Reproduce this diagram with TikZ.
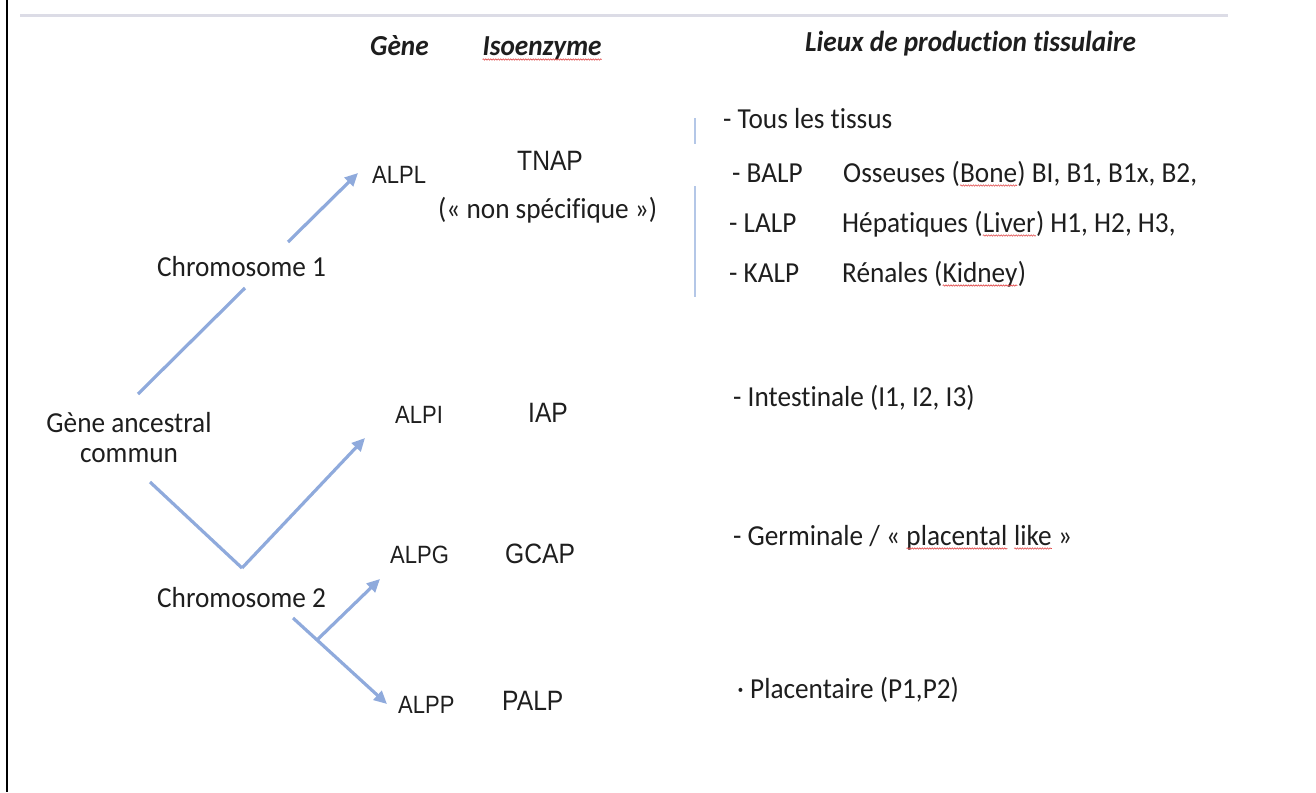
\documentclass[tikz,border=0pt]{standalone}
\usepackage{fontspec}
\setmainfont{Carlito}[Ligatures={NoCommon}, FakeStretch=0.94]
\newfontfamily\arialfont{Liberation Sans}[FakeStretch=0.88]
\usepackage{tikz}
\usetikzlibrary{arrows.meta,decorations.pathmorphing}

\definecolor{branchblue}{HTML}{8FAADC}
\definecolor{barblue}{HTML}{B4C7E7}
\definecolor{rulegray}{HTML}{DCDCE6}
\definecolor{spellred}{HTML}{E04A4A}
\definecolor{ink}{HTML}{1E1E1E}

% wavy red spell-check mark under a word
\newcommand{\spellmark}[1]{\tikz[baseline=(sp.base)]{\node[inner sep=0pt,outer sep=0pt] (sp) {#1};
  \draw[spellred,line width=0.6pt,decorate,decoration={snake,amplitude=0.7pt,segment length=2.5pt}]
    ([yshift=-3.5pt]sp.base west) -- ([yshift=-3.5pt]sp.base east);}}

\begin{document}
\begin{tikzpicture}[
  x=1pt, y=-1pt,
  txt/.style={anchor=base west, inner sep=0pt, text=ink, font=\fontsize{29}{30}\selectfont},
  head/.style={txt, font=\fontsize{29}{30}\selectfont\bfseries\itshape},
  gene/.style={anchor=base west, inner sep=0pt, text=ink, font=\arialfont\fontsize{25}{30}\selectfont},
  iso/.style={gene, font=\arialfont\fontsize{28}{30}\selectfont},
  branch/.style={draw=branchblue, line width=3.2pt},
  arrow/.style={branch, -{Triangle[length=13pt,width=12pt]}},
  bar/.style={draw=barblue, line width=1.2pt}
]
\useasboundingbox (0,0) rectangle (1316,792);

% Frame
\draw[black, line width=2pt] (7,0) -- (7,792);
\draw[rulegray, line width=3pt] (20,16) -- (1228,16);

% Column heads
\node[head] (hgene) at (370,56) {Gène};
\node[head] (hiso) at (482,56) {\spellmark{Isoenzyme}};
\node[head] (hlieu) at (805,52) {Lieux de production tissulaire};

% Ancestral gene and chromosomes
\node[txt, anchor=base, align=center] (anc) at (129,462) {Gène ancestral\\commun};
\node[txt] (chr1) at (157,276) {Chromosome 1};
\node[txt] (chr2) at (157,607) {Chromosome 2};

% Genes and isoenzymes
\node[gene] (alpl) at (372,183) {ALPL};
\node[iso] (tnap) at (517,170) {TNAP};
\node[txt] (nonspec) at (438,218) {(« non spécifique »)};
\node[gene] (alpi) at (395,423) {ALPI};
\node[iso] (iap) at (528,422) {IAP};
\node[gene] (alpg) at (390,563) {ALPG};
\node[iso] (gcap) at (505,563) {GCAP};
\node[gene] (alpp) at (398,713) {ALPP};
\node[iso] (palp) at (502,710) {PALP};

% Tissues
\draw[bar] (695,118) -- (695,144);
\draw[bar] (695,186) -- (695,297);
\node[txt] (tous) at (723,128) {- Tous les tissus};
\node[txt] (balp) at (732,182) {- BALP};
\node[txt] (bone) at (843,182) {Osseuses (\spellmark{Bone}) BI, B1, B1x, B2,};
\node[txt] (lalp) at (729,232) {- LALP};
\node[txt] (liver) at (842,232) {Hépatiques (\spellmark{Liver}) H1, H2, H3,};
\node[txt] (kalp) at (729,282) {- KALP};
\node[txt] (kidney) at (842,282) {Rénales (\spellmark{Kidney})};
\node[txt] (intest) at (733,406) {- Intestinale (I1, I2, I3)};
\node[txt] (germ) at (733,545) {- Germinale / « \spellmark{placental} \spellmark{like} »};
\node[txt] (plac) at (737,698) {· Placentaire (P1,P2)};

% Branch points
\coordinate (anc-out) at (138,394);
\coordinate (chr1-in) at (245,288);
\coordinate (chr1-out) at (288,242);
\coordinate (alpl-in) at (358,173);
\coordinate (anc-down) at (150,482);
\coordinate (chr2-fork) at (242,568);
\coordinate (alpi-in) at (365,438);
\coordinate (chr2-out) at (293,618);
\coordinate (chr2-split) at (317,640);
\coordinate (alpg-in) at (380,579);
\coordinate (alpp-in) at (387,704);

% Arrows
\draw[branch] (anc-out) -- (chr1-in);
\draw[arrow] (chr1-out) -- (alpl-in);
\draw[branch] (anc-down) -- (chr2-fork);
\draw[arrow] (chr2-fork) -- (alpi-in);
\draw[arrow] (chr2-out) -- (alpp-in);
\draw[arrow] (chr2-split) -- (alpg-in);

\end{tikzpicture}
\end{document}
